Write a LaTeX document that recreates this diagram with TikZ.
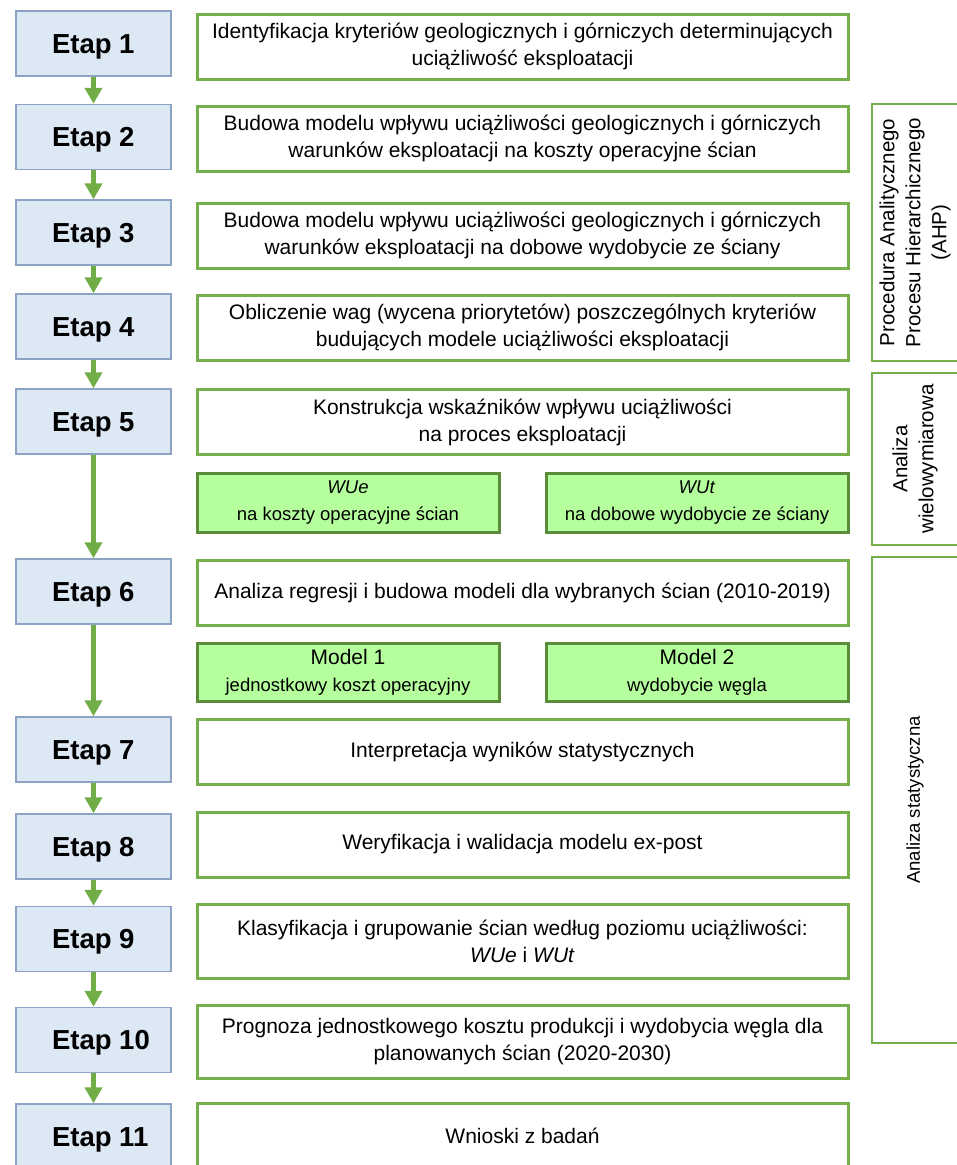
\documentclass[tikz,border=0pt]{standalone}
\usepackage{fontspec}
\setmainfont{Liberation Sans}
\usetikzlibrary{arrows.meta}

\definecolor{etapfill}{HTML}{DDE8F5}
\definecolor{etapline}{HTML}{8CA3C3}
\definecolor{boxline}{HTML}{74AF4C}
\definecolor{wskfill}{HTML}{B5FF9D}
\definecolor{wskline}{HTML}{5B8C3C}
\definecolor{arrowgreen}{HTML}{70AD47}

\newcommand{\etaplabel}[1]{\makebox[83pt][l]{Etap #1}}

\begin{document}
\begin{tikzpicture}[x=1pt, y=-1pt,
	etap/.style={draw=etapline, line width=1.5pt, fill=etapfill, minimum width=155pt, minimum height=65pt,
		font=\fontsize{27.5}{33}\selectfont\bfseries, text height=19.7pt, text depth=0pt},
	opis/.style={draw=boxline, line width=3pt, fill=white, minimum width=651pt, minimum height=65pt,
		align=center, font=\fontsize{21}{27}\selectfont},
	wsk/.style={draw=wskline, line width=3pt, fill=wskfill, minimum width=302pt, minimum height=59pt,
		align=center, font=\fontsize{18.5}{27}\selectfont},
	grupa/.style={draw=boxline, line width=2.5pt, rotate=90, minimum height=86pt,
		align=center, font=\fontsize{20.5}{26}\selectfont},
	krok/.style={arrowgreen, line width=4.5pt, -{Triangle[width=17pt, length=16pt]}}]
	\useasboundingbox (0,0) rectangle (957,1165);
	
	% etapy
	\node[etap] (e1) at (93.5, 43.5) {\etaplabel{1}};
	\node[etap] (e2) at (93.5, 137) {\etaplabel{2}};
	\node[etap] (e3) at (93.5, 232.5) {\etaplabel{3}};
	\node[etap] (e4) at (93.5, 326.5) {\etaplabel{4}};
	\node[etap] (e5) at (93.5, 421.5) {\etaplabel{5}};
	\node[etap] (e6) at (93.5, 591.5) {\etaplabel{6}};
	\node[etap] (e7) at (93.5, 749.5) {\etaplabel{7}};
	\node[etap] (e8) at (93.5, 846.5) {\etaplabel{8}};
	\node[etap] (e9) at (93.5, 939) {\etaplabel{9}};
	\node[etap] (e10) at (93.5, 1040) {\etaplabel{10}};
	\node[etap] (e11) at (93.5, 1136.5) {\etaplabel{11}};
	
	% opisy etapow
	\node[opis] (o1) at (522.5, 46.5) {Identyfikacja kryteriów geologicznych i górniczych determinujących\\ uciążliwość eksploatacji};
	\node[opis] (o2) at (522.5, 138.5) {Budowa modelu wpływu uciążliwości geologicznych i górniczych\\ warunków eksploatacji na koszty operacyjne ścian};
	\node[opis] (o3) at (522.5, 235.5) {Budowa modelu wpływu uciążliwości geologicznych i górniczych\\ warunków eksploatacji na dobowe wydobycie ze ściany};
	\node[opis] (o4) at (522.5, 327.5) {Obliczenie wag (wycena priorytetów) poszczególnych kryteriów\\ budujących modele uciążliwości eksploatacji};
	\node[opis] (o5) at (522.5, 422) {Konstrukcja wskaźników wpływu uciążliwości\\ na proces eksploatacji};
	\node[opis] (o6) at (522.5, 592.5) {Analiza regresji i budowa modeli dla wybranych ścian (2010-2019)};
	\node[opis] (o7) at (522.5, 752) {Interpretacja wyników statystycznych};
	\node[opis] (o8) at (522.5, 844.5) {Weryfikacja i walidacja modelu ex-post};
	\node[opis, minimum height=74pt] (o9) at (522.5, 941) {Klasyfikacja i grupowanie ścian według poziomu uciążliwości:\\ \textit{WUe} i \textit{WUt}};
	\node[opis, minimum height=73pt] (o10) at (522.5, 1041.5) {Prognoza jednostkowego kosztu produkcji i wydobycia węgla dla\\ planowanych ścian (2020-2030)};
	\node[opis] (o11) at (522.5, 1135.5) {Wnioski z badań};
	
	% wskazniki i modele
	\node[wsk] (wue) at (348, 502.5) {\textit{WUe}\\ na koszty operacyjne ścian};
	\node[wsk] (wut) at (697, 502.5) {\textit{WUt}\\ na dobowe wydobycie ze ściany};
	\node[wsk, minimum height=58pt] (m1) at (348, 672) {{\fontsize{21}{27}\selectfont Model 1}\\ jednostkowy koszt operacyjny};
	\node[wsk, minimum height=58pt] (m2) at (697, 672) {{\fontsize{21}{27}\selectfont Model 2}\\ wydobycie węgla};
	
	% grupy etapow
	\node[grupa, minimum width=257pt] (ahp) at (915, 232.5) {Procedura Analitycznego\\ Procesu Hierarchicznego\\ (AHP)};
	\node[grupa, minimum width=172pt] (wiel) at (915, 459) {Analiza\\ wielowymiarowa};
	\node[grupa, minimum width=486pt, font=\fontsize{18.5}{24}\selectfont] (stat) at (915, 800) {Analiza statystyczna};
	
	\draw[krok] (e1) -- (e2);
	\draw[krok] (e2) -- (e3);
	\draw[krok] (e3) -- (e4);
	\draw[krok] (e4) -- (e5);
	\draw[krok] (e5) -- (e6);
	\draw[krok] (e6) -- (e7);
	\draw[krok] (e7) -- (e8);
	\draw[krok] (e8) -- (e9);
	\draw[krok] (e9) -- (e10);
	\draw[krok] (e10) -- (e11);
\end{tikzpicture}
\end{document}
